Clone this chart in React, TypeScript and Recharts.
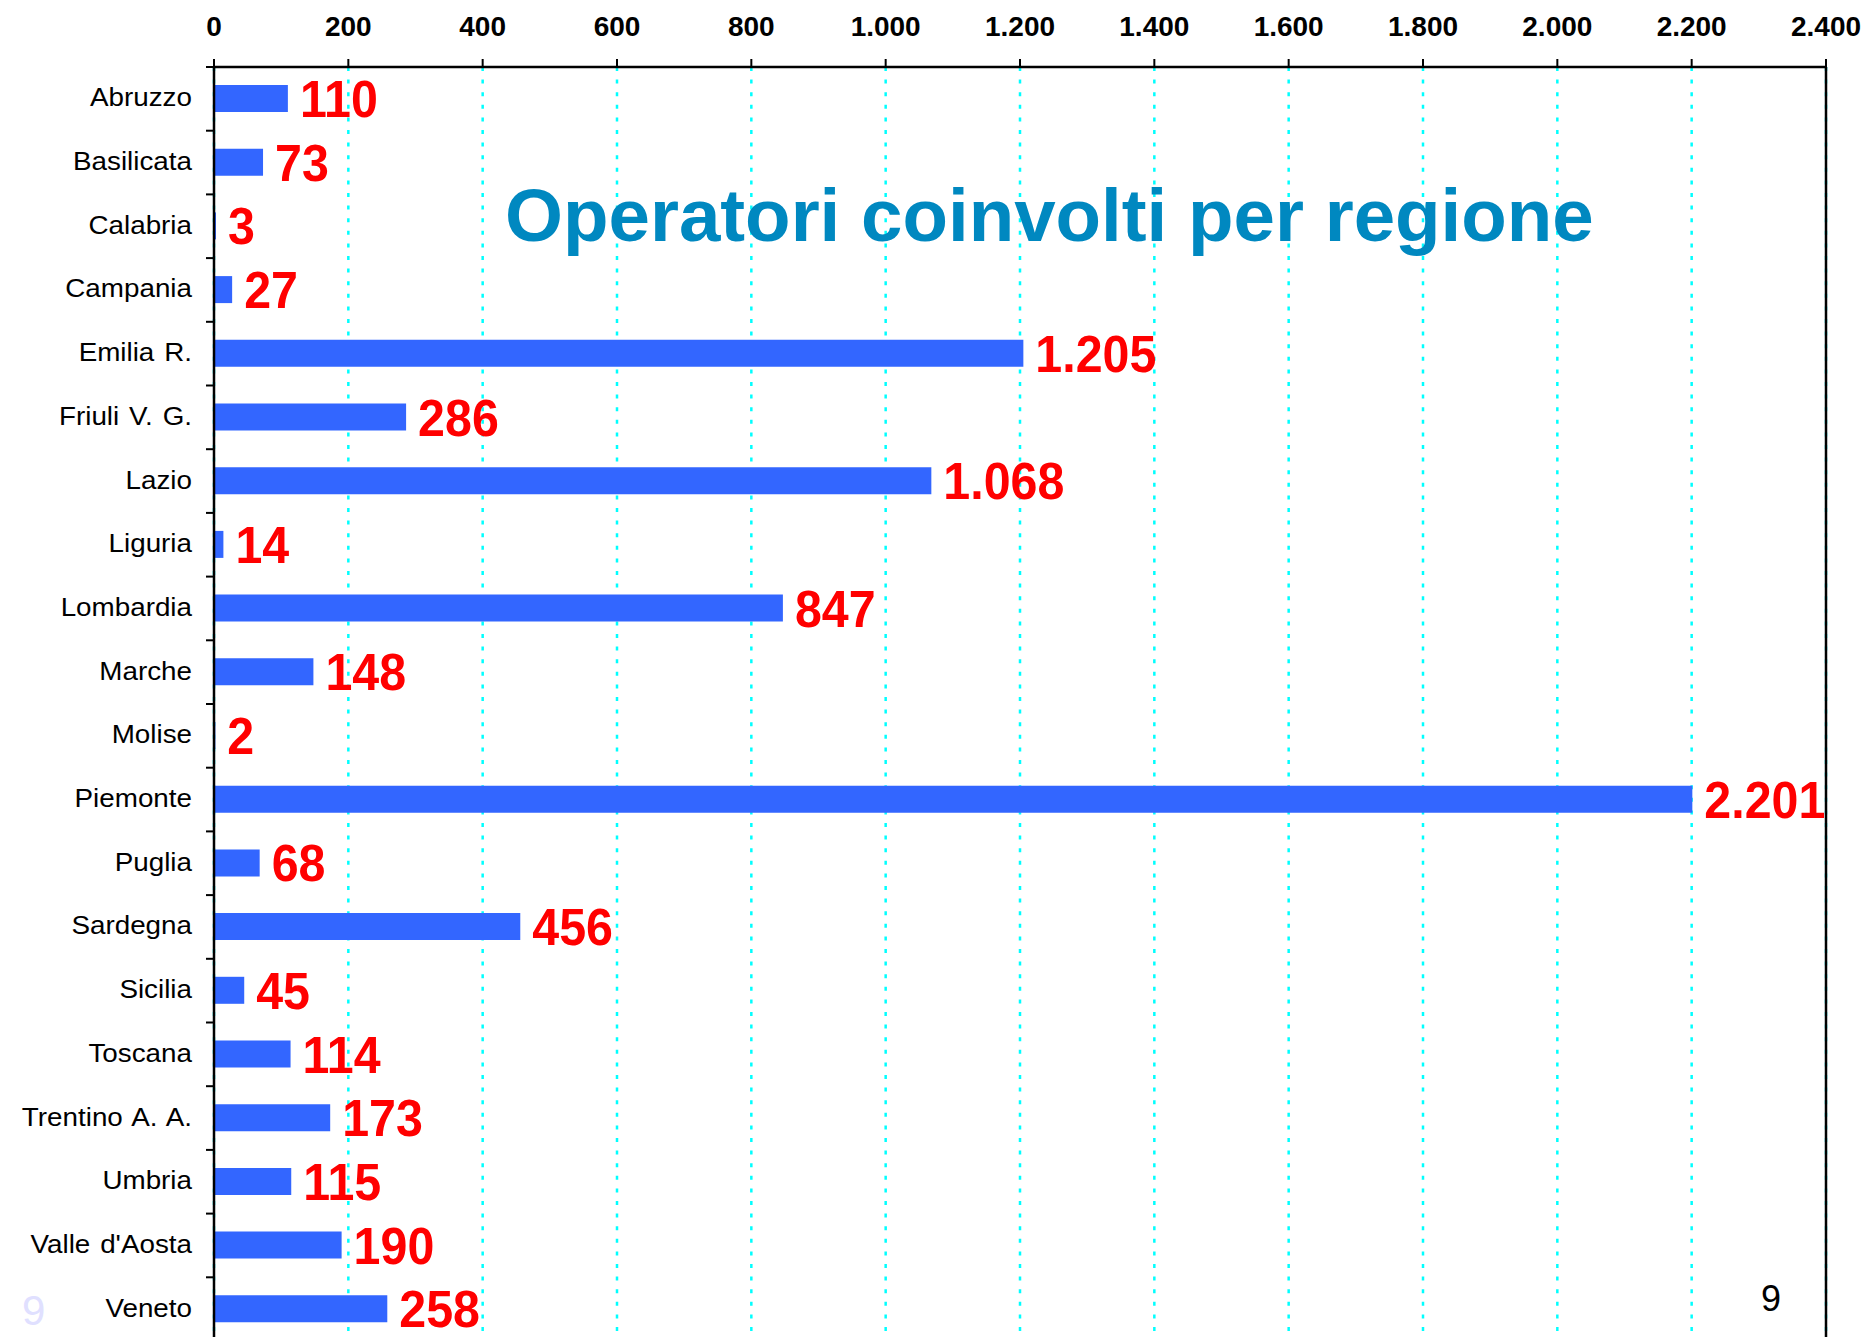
import React from 'react';
import { BarChart, Bar, XAxis, YAxis, CartesianGrid, LabelList, ReferenceLine } from 'recharts';

const regions = [
  'Abruzzo', 'Basilicata', 'Calabria', 'Campania', 'Emilia R.', 'Friuli V. G.', 'Lazio',
  'Liguria', 'Lombardia', 'Marche', 'Molise', 'Piemonte', 'Puglia', 'Sardegna', 'Sicilia',
  'Toscana', 'Trentino A. A.', 'Umbria', "Valle d'Aosta", 'Veneto',
];
const operators = [110, 73, 3, 27, 1205, 286, 1068, 14, 847, 148, 2, 2201, 68, 456, 45, 114, 173, 115, 190, 258];
const xTicks = [0, 200, 400, 600, 800, 1000, 1200, 1400, 1600, 1800, 2000, 2200, 2400];
const title = 'Operatori coinvolti per regione';
const pageNumber = '9';

const data = regions.map((name, i) => ({ name, value: operators[i] }));

const W = 1868;
const H = 1342;
const Y_W = 214;
const MARGIN = { top: 37, right: 42, bottom: 1, left: 0 };
const X_H = 30;
const PLOT_H = H - MARGIN.top - X_H - MARGIN.bottom;
const BAND = PLOT_H / regions.length;

const fmt = (n: number) => n.toString().replace(/\B(?=(\d{3})+(?!\d))/g, '.');

const RegionTick = (props: any) => {
  const { y, payload } = props;
  return (
    <g>
      <line x1={Y_W - 8} x2={Y_W} y1={y - BAND / 2} y2={y - BAND / 2} stroke="#000" strokeWidth={2} />
      <text
        transform={`translate(${Y_W - 22},${y + 7.5}) scale(1.07,1)`}
        x={0}
        y={0}
        textAnchor="end"
        fontSize={26}
        fill="#000"
        style={{ wordSpacing: 2 }}
      >
        {payload.value}
      </text>
    </g>
  );
};

const ValueLabel = (props: any) => {
  const { x, y, width, height, value } = props;
  const tx = x + width + 12;
  const ty = y + height / 2 + 18.5;
  return (
    <text transform={`translate(${tx},${ty}) scale(0.93,1)`} x={0} y={0} fontSize={52} fontWeight="bold" fill="#FF0000">
      {fmt(value)}
    </text>
  );
};

export default function App() {
  return (
    <div
      style={{
        position: 'absolute', left: 0, top: 0, width: W, height: 1337, overflow: 'hidden',
        background: '#fff', fontFamily: '"Liberation Sans", Arial, sans-serif',
      }}
    >
      <BarChart width={W} height={H} data={data} layout="vertical" margin={MARGIN}>
        <CartesianGrid horizontal={false} stroke="#00FFFF" strokeDasharray="4 8.6" strokeWidth={2.5} />
        <XAxis
          type="number"
          orientation="top"
          domain={[0, 2400]}
          ticks={xTicks}
          height={X_H}
          tickFormatter={fmt}
          tickSize={8}
          tickMargin={23}
          axisLine={{ stroke: '#000', strokeWidth: 2.5 }}
          tickLine={{ stroke: '#000', strokeWidth: 2 }}
          tick={{ fontSize: 28, fontWeight: 'bold', fill: '#000' }}
        />
        <YAxis
          type="category"
          dataKey="name"
          width={Y_W}
          interval={0}
          axisLine={{ stroke: '#000', strokeWidth: 2.5 }}
          tickLine={false}
          tick={<RegionTick />}
        />
        <ReferenceLine x={2400} stroke="#000" strokeWidth={2.5} />
        <Bar dataKey="value" fill="#3366FF" barSize={27} isAnimationActive={false}>
          <LabelList dataKey="value" content={<ValueLabel />} />
        </Bar>
      </BarChart>
      <svg width={W} height={1337} style={{ position: 'absolute', left: 0, top: 0, pointerEvents: 'none' }}>
        <text x={505} y={241} fontSize={74.5} fontWeight="bold" fill="#0088C0">{title}</text>
        <text x={1761} y={1311} fontSize={36} fill="#000">{pageNumber}</text>
        <text x={22} y={1325} fontSize={42} fill="#E0E0FF">{pageNumber}</text>
      </svg>
    </div>
  );
}
